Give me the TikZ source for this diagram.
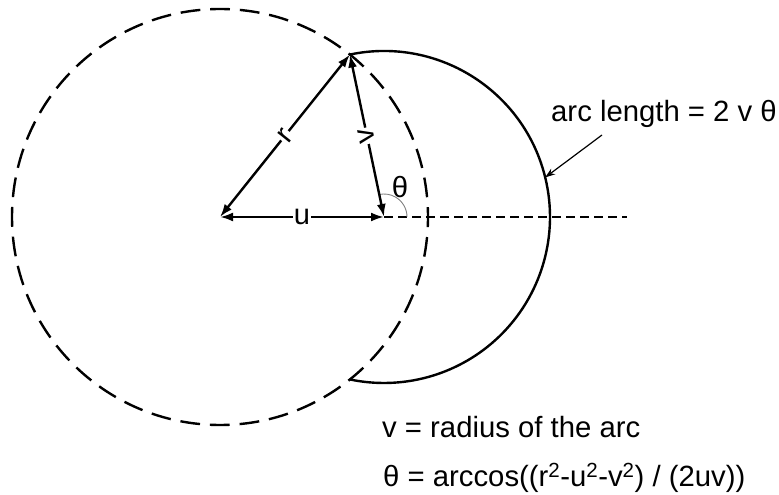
\documentclass[tikz,border=0pt]{standalone}
\usepackage{fontspec}
\setmainfont{Liberation Sans}
\usetikzlibrary{arrows.meta,calc}
\begin{document}
\begin{tikzpicture}[x=1pt,y=1pt,
  txt/.style={font=\fontsize{29.3}{33}\selectfont, inner sep=0pt},
  lbl/.style={font=\fontsize{29}{33}\selectfont, fill=white, inner sep=1pt},
  dbl/.style={line width=2.4pt, {Latex[length=13pt,width=9pt]}-{Latex[length=13pt,width=9pt]}},
  bigdash/.style={line width=2.4pt, dash pattern=on 19.8pt off 9.9pt, dash phase=9.9pt},
  smalldash/.style={line width=1.4pt, dash pattern=on 9pt off 5pt},
  leader/.style={line width=1.2pt, -{Stealth[length=10pt,width=7pt]}}]
\useasboundingbox (0,0) rectangle (779,495);
\coordinate (O) at (220,278);
\coordinate (C) at (384,278);
\coordinate (P) at ($(C)+(101.86:166)$);
\coordinate (Q) at ($(C)+(-101.86:166)$);
\coordinate (E) at (627,278);
\coordinate (L1) at (602,360);
\coordinate (L2) at ($(C)+(13.8:166)$);
% dashed circle
\draw[bigdash] (O) circle[radius=208];
% horizontal dashed line
\draw[smalldash] (C) -- (E);
% solid arc
\draw[line width=2.4pt] (P) arc[start angle=101.86, end angle=-101.86, radius=166];
% theta arc
\draw[gray, line width=0.9pt] ($(C)+(23,0)$) arc[start angle=0, end angle=101.86, radius=23];
\node[txt] (th) at ($(C)+(16,30)$) {θ};
% arrows
\draw[dbl] (O) -- node[lbl, sloped] (rl) {r} (P);
\draw[dbl] (P) -- node[lbl, rotate=101.86] (vl) {v} (C);
\draw[dbl] (O) -- node[lbl] (ul) {u} (C);
% leader
\draw[leader] (L1) -- (L2);
% texts
\node[txt, anchor=base west] (t1) at (551,373) {arc length = 2 v θ};
\node[txt, anchor=base west] (t2) at (382,57) {v = radius of the arc};
\node[txt, anchor=base west] (t3) at (383,8) {θ = arccos((r\textsuperscript{2}-u\textsuperscript{2}-v\textsuperscript{2}) / (2uv))};
\end{tikzpicture}
\end{document}
